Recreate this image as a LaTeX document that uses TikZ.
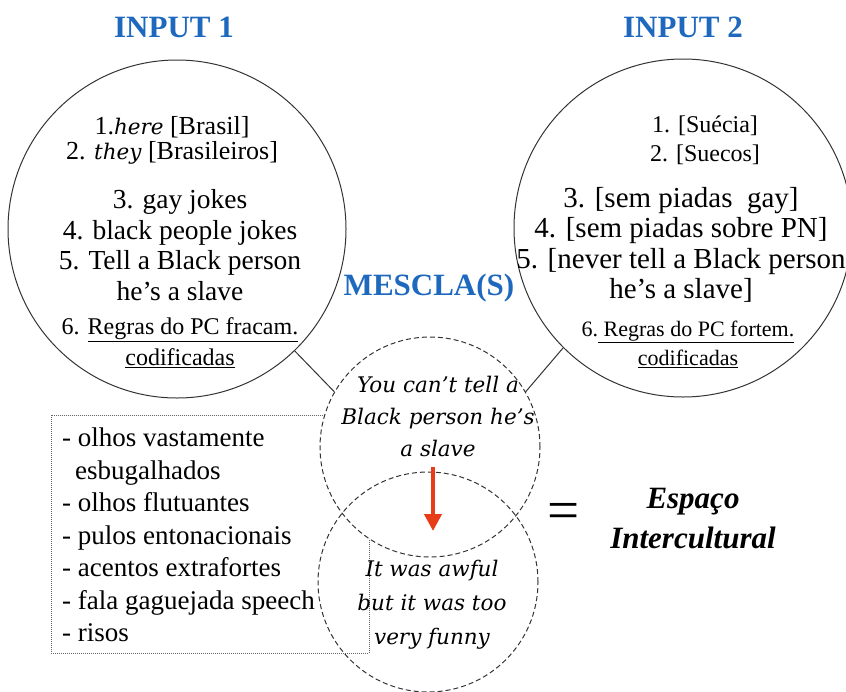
\documentclass[tikz,border=0pt]{standalone}
\usepackage{fontspec}
\setmainfont{Liberation Serif}
\newfontfamily\djv{DejaVu Serif}
\usetikzlibrary{arrows.meta}
\definecolor{titleblue}{RGB}{30,105,190}
\definecolor{arrowred}{RGB}{232,60,25}
\tikzset{
  titletxt/.style={font=\fontsize{31}{31}\selectfont\bfseries, text=titleblue, inner sep=0pt},
  inputcircle/.style={circle, draw=black!80, line width=1pt, minimum size=338pt, inner sep=0pt},
  mescircle/.style={circle, draw=black!80, line width=1pt, dash pattern=on 5pt off 3pt, minimum size=220pt, inner sep=0pt},
  link/.style={draw=black!80, line width=1pt},
  txt/.style={align=center, inner sep=0pt},
  dotbox/.style={draw=black!60, line width=0.8pt, dash pattern=on 1pt off 1pt, inner sep=0pt},
  redarrow/.style={draw=arrowred, line width=4pt, -{Triangle[length=17pt,width=17pt]}},
}
\begin{document}
\begin{tikzpicture}[x=1pt,y=-1pt]
\useasboundingbox (0,0) rectangle (846,691);
% titles
\node[titletxt] (t1) at (174,27) {INPUT 1};
\node[titletxt] (t2) at (683,27) {INPUT 2};
\node[titletxt] (t3) at (429,288) {MESCLA(S)};
% input circles
\node[inputcircle] (in1) at (177,229) {};
\node[inputcircle] (in2) at (683,228) {};
% left texts
\node[txt, font=\fontsize{26}{25}\selectfont] (a1) at (172,140)
  {1.{\djv\itshape\fontsize{21.5}{21}\selectfont here} [Brasil]\\2. {\djv\itshape\fontsize{21.5}{21}\selectfont they} [Brasileiros]};
\node[txt, font=\fontsize{27.5}{30.7}\selectfont] (a2) at (180,245)
  {3. gay jokes\\4. black people jokes\\5. Tell a Black person\\he’s a slave};
\node[txt, font=\fontsize{24}{31}\selectfont] (a3) at (180,343)
  {6. \underline{Regras do PC fracam.}\\\underline{codificadas}};
% right texts
\node[txt, font=\fontsize{24}{29}\selectfont] (b1) at (705,140)
  {1. [Suécia]\\2. [Suecos]};
\node[txt, font=\fontsize{29}{30.3}\selectfont] (b2) at (681,245)
  {3. [sem piadas\ \ gay]\\4. [sem piadas sobre PN]\\5. [never tell a Black person\\he’s a slave]};
\node[txt, font=\fontsize{22}{29}\selectfont] (b3) at (688,344)
  {6.\underline{ Regras do PC fortem.}\\\underline{codificadas}};
% dotted box with list
\node[dotbox, anchor=north west, minimum width=318pt, minimum height=238pt] (box) at (51,415) {};
\node[txt, align=left, anchor=north west, font=\fontsize{27}{32.5}\selectfont] (boxtxt) at (62,428)
  {- olhos vastamente\\\hspace*{13pt}esbugalhados\\- olhos flutuantes\\- pulos entonacionais\\- acentos extrafortes\\- fala gaguejada speech\\- risos};
% blend circles
\node[mescircle, fill=white] (m1) at (430,447) {};
\draw[link] (in1.-46) -- (m1.150);
\draw[link] (in2.225) -- (m1.30.6);
\node[mescircle] (m2) at (428,582) {};
\node[txt, font=\djv\itshape\fontsize{21.5}{32}\selectfont] (mt1) at (438,416)
  {You can’t tell a\\Black person he’s\\a slave};
\node[txt, font=\djv\itshape\fontsize{21.5}{34}\selectfont] (mt2) at (432,605)
  {It was awful\\but it was too\\very funny};
\coordinate (as) at (433,467);
\coordinate (ae) at (433,531);
\draw[redarrow] (as) -- (ae);
% equals and result
\node[inner sep=0pt, font=\fontsize{57}{57}\selectfont] (eq) at (564,516) {=};
\node[txt, font=\fontsize{31}{40}\selectfont\bfseries\itshape] (esp) at (693,519) {Espaço\\Intercultural};
\end{tikzpicture}
\end{document}
